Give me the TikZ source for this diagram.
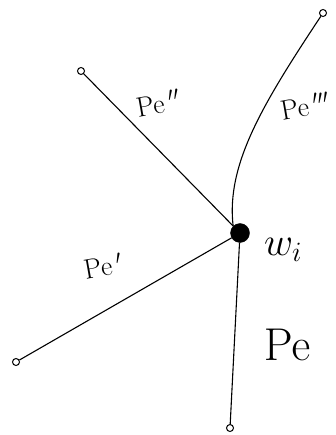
\RequirePackage{fix-cm}
\documentclass[tikz,border=0pt]{standalone}
\usepackage{amsmath,amssymb}
\usepackage{tikz}

\tikzset{
    endpt/.style={draw, circle, inner sep=0pt, minimum size=7pt, line width=1pt},
    hub/.style={draw, circle, fill=black, inner sep=0pt, minimum size=19pt},
    edgeline/.style={line width=1.1pt},
    elabel/.style={font=\fontsize{28}{30}\selectfont}
}

\begin{document}
\begin{tikzpicture}[x=1pt, y=-1pt]
    \useasboundingbox (0,0) rectangle (335,435);

    % Center vertex
    \node[hub] (w) at (240,233) {};
    \node[font=\fontsize{40}{42}\selectfont] (wlab) at (283,250) {$w_i$};

    % Endpoints
    \node[endpt] (a) at (81,71) {};
    \node[endpt] (b) at (323,13) {};
    \node[endpt] (c) at (16,362) {};
    \node[endpt] (d) at (230,428) {};

    % Edges
    \draw[edgeline] (w) -- (a);
    \draw[edgeline] (w.north west) .. controls (226,165) and (262,105) .. (b);
    \draw[edgeline] (w) -- (c);
    \draw[edgeline] (w) -- (d);

    % Edge labels
    \node[elabel, rotate=10] (la) at (158,103) {$\mathrm{Pe}\,''$};
    \node[elabel, rotate=10] (lb) at (305,106) {$\mathrm{Pe}\,'''$};
    \node[elabel, rotate=10] (lc) at (103,266) {$\mathrm{Pe}\,'$};
    \node[font=\fontsize{46}{48}\selectfont] (ld) at (287,345) {$\mathrm{Pe}$};
\end{tikzpicture}
\end{document}
